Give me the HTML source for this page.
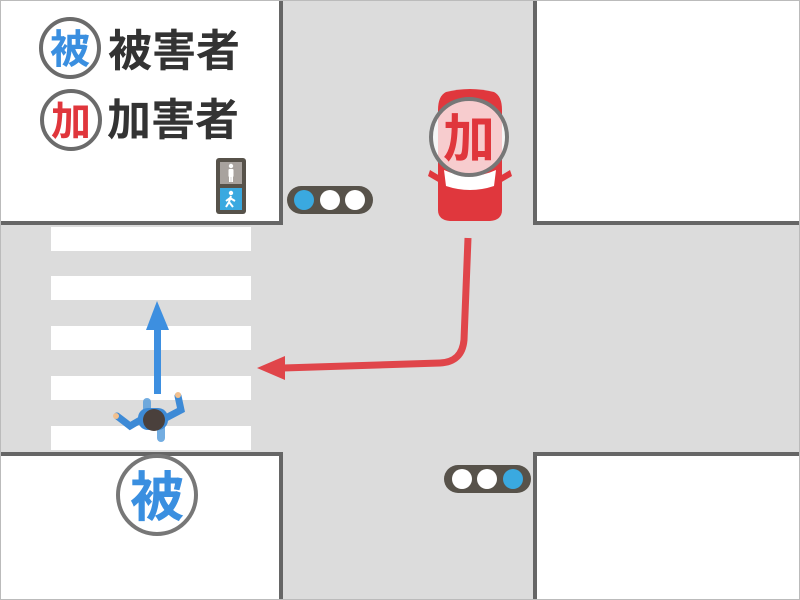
<!DOCTYPE html>
<html><head><meta charset="utf-8"><style>
html,body{margin:0;padding:0;width:800px;height:600px;overflow:hidden;background:#ddd}
svg{display:block}
text{font-family:"Liberation Sans","Noto Sans CJK JP",sans-serif;font-weight:bold}
</style></head><body>
<svg width="800" height="600" viewBox="0 0 800 600" xmlns="http://www.w3.org/2000/svg">
<rect x="0" y="0" width="800" height="600" fill="#dcdcdc"/>
<g fill="#fff" stroke="#666" stroke-width="4">
<rect x="-5" y="-5" width="286" height="228"/>
<rect x="535" y="-5" width="275" height="228"/>
<rect x="-5" y="454" width="286" height="160"/>
<rect x="535" y="454" width="275" height="160"/>
</g>
<rect x="0.5" y="0.5" width="799" height="599" fill="none" stroke="#bbb" stroke-width="1"/>
<g fill="#fff">
<rect x="51" y="227" width="200" height="24"/>
<rect x="51" y="276" width="200" height="24"/>
<rect x="51" y="326" width="200" height="24"/>
<rect x="51" y="376" width="200" height="24"/>
<rect x="51" y="426" width="200" height="24"/>
</g>
<circle cx="70" cy="48" r="29" fill="#fff" stroke="#6b6b6b" stroke-width="4"/>
<text x="70" y="63" font-size="40" fill="#3a8fe0" text-anchor="middle">被</text>
<circle cx="71" cy="120" r="29" fill="#fff" stroke="#6b6b6b" stroke-width="4"/>
<text x="71" y="135" font-size="40" fill="#e0363c" text-anchor="middle">加</text>
<text x="108" y="66" font-size="44" fill="#333">被害者</text>
<text x="107" y="135" font-size="44" fill="#333">加害者</text>
<!-- ped signal -->
<rect x="216" y="158" width="30" height="56" rx="3" fill="#57524a"/>
<rect x="220" y="162" width="22" height="22" fill="#a8a29e"/>
<rect x="220" y="188" width="22" height="22" fill="#3aa9e0"/>
<circle cx="231" cy="166" r="2.2" fill="#fff"/>
<rect x="228.5" y="169" width="5" height="8" rx="1" fill="#fff"/>
<rect x="229" y="176" width="1.8" height="6" fill="#fff"/>
<rect x="231.2" y="176" width="1.8" height="6" fill="#fff"/>
<circle cx="231" cy="193" r="2.2" fill="#fff"/>
<path d="M231 196 L229 202 L226 207 M229 202 L233 207 M230 198 L235 201 M230 198 L226 201" stroke="#fff" stroke-width="2" fill="none"/>
<rect x="287" y="186" width="86" height="28" rx="14" fill="#57524a"/>
<circle cx="304" cy="200" r="10" fill="#3aa9e0"/>
<circle cx="330" cy="200" r="10" fill="#fff"/>
<circle cx="355" cy="200" r="10" fill="#fff"/>
<rect x="444" y="465" width="87" height="28" rx="14" fill="#57524a"/>
<circle cx="462" cy="479" r="10" fill="#fff"/>
<circle cx="487" cy="479" r="10" fill="#fff"/>
<circle cx="513" cy="479" r="10" fill="#3aa9e0"/>
<!-- car -->
<path d="M446 92 Q470 86 494 92 Q502 96 502 110 L502 210 Q502 220 490 221 L450 221 Q438 220 438 210 L438 110 Q438 96 446 92 Z" fill="#e0373d"/>
<path d="M430 170 L440 176 L440 183 L428 176 Z M510 170 L500 176 L500 183 L512 176 Z" fill="#e0373d"/>
<path d="M444 170 Q470 182 496 170 L494 186 Q470 194 446 186 Z" fill="#fff"/>
<circle cx="469" cy="137" r="38" fill="#fff" fill-opacity="0.75" stroke="#777" stroke-width="4"/>
<text x="469" y="157" font-size="52" fill="#e0363c" text-anchor="middle">加</text>
<path d="M468 238 L464 340 Q462 362 440 363 L283 368" fill="none" stroke="#e0454a" stroke-width="7"/>
<path d="M257 368 L285 356 L285 380 Z" fill="#e0454a"/>
<rect x="154" y="326" width="7" height="68" fill="#3d8fe0"/>
<path d="M157 301 L146 330 L169 330 Z" fill="#3d8fe0"/>
<rect x="143" y="398" width="8" height="22" rx="4" fill="#5b9fdc" opacity="0.85"/>
<rect x="157" y="420" width="8" height="22" rx="4" fill="#5b9fdc" opacity="0.85"/>
<path d="M117 416 L130 426 L142 419" stroke="#3d8ad6" stroke-width="7" fill="none" stroke-linecap="round"/>
<path d="M162 420 L181 410 L178 396" stroke="#3d8ad6" stroke-width="7" fill="none" stroke-linecap="round"/>
<rect x="138" y="408" width="30" height="22" rx="10" fill="#3d8ad6"/>
<circle cx="116" cy="416" r="3" fill="#f2c08e"/>
<circle cx="178" cy="395" r="3" fill="#f2c08e"/>
<circle cx="154" cy="420" r="11" fill="#4a403c"/>
<circle cx="157" cy="495" r="39" fill="#fff" stroke="#777" stroke-width="4"/>
<text x="157" y="516" font-size="54" fill="#3a8fe0" text-anchor="middle">被</text>
</svg>
</body></html>
